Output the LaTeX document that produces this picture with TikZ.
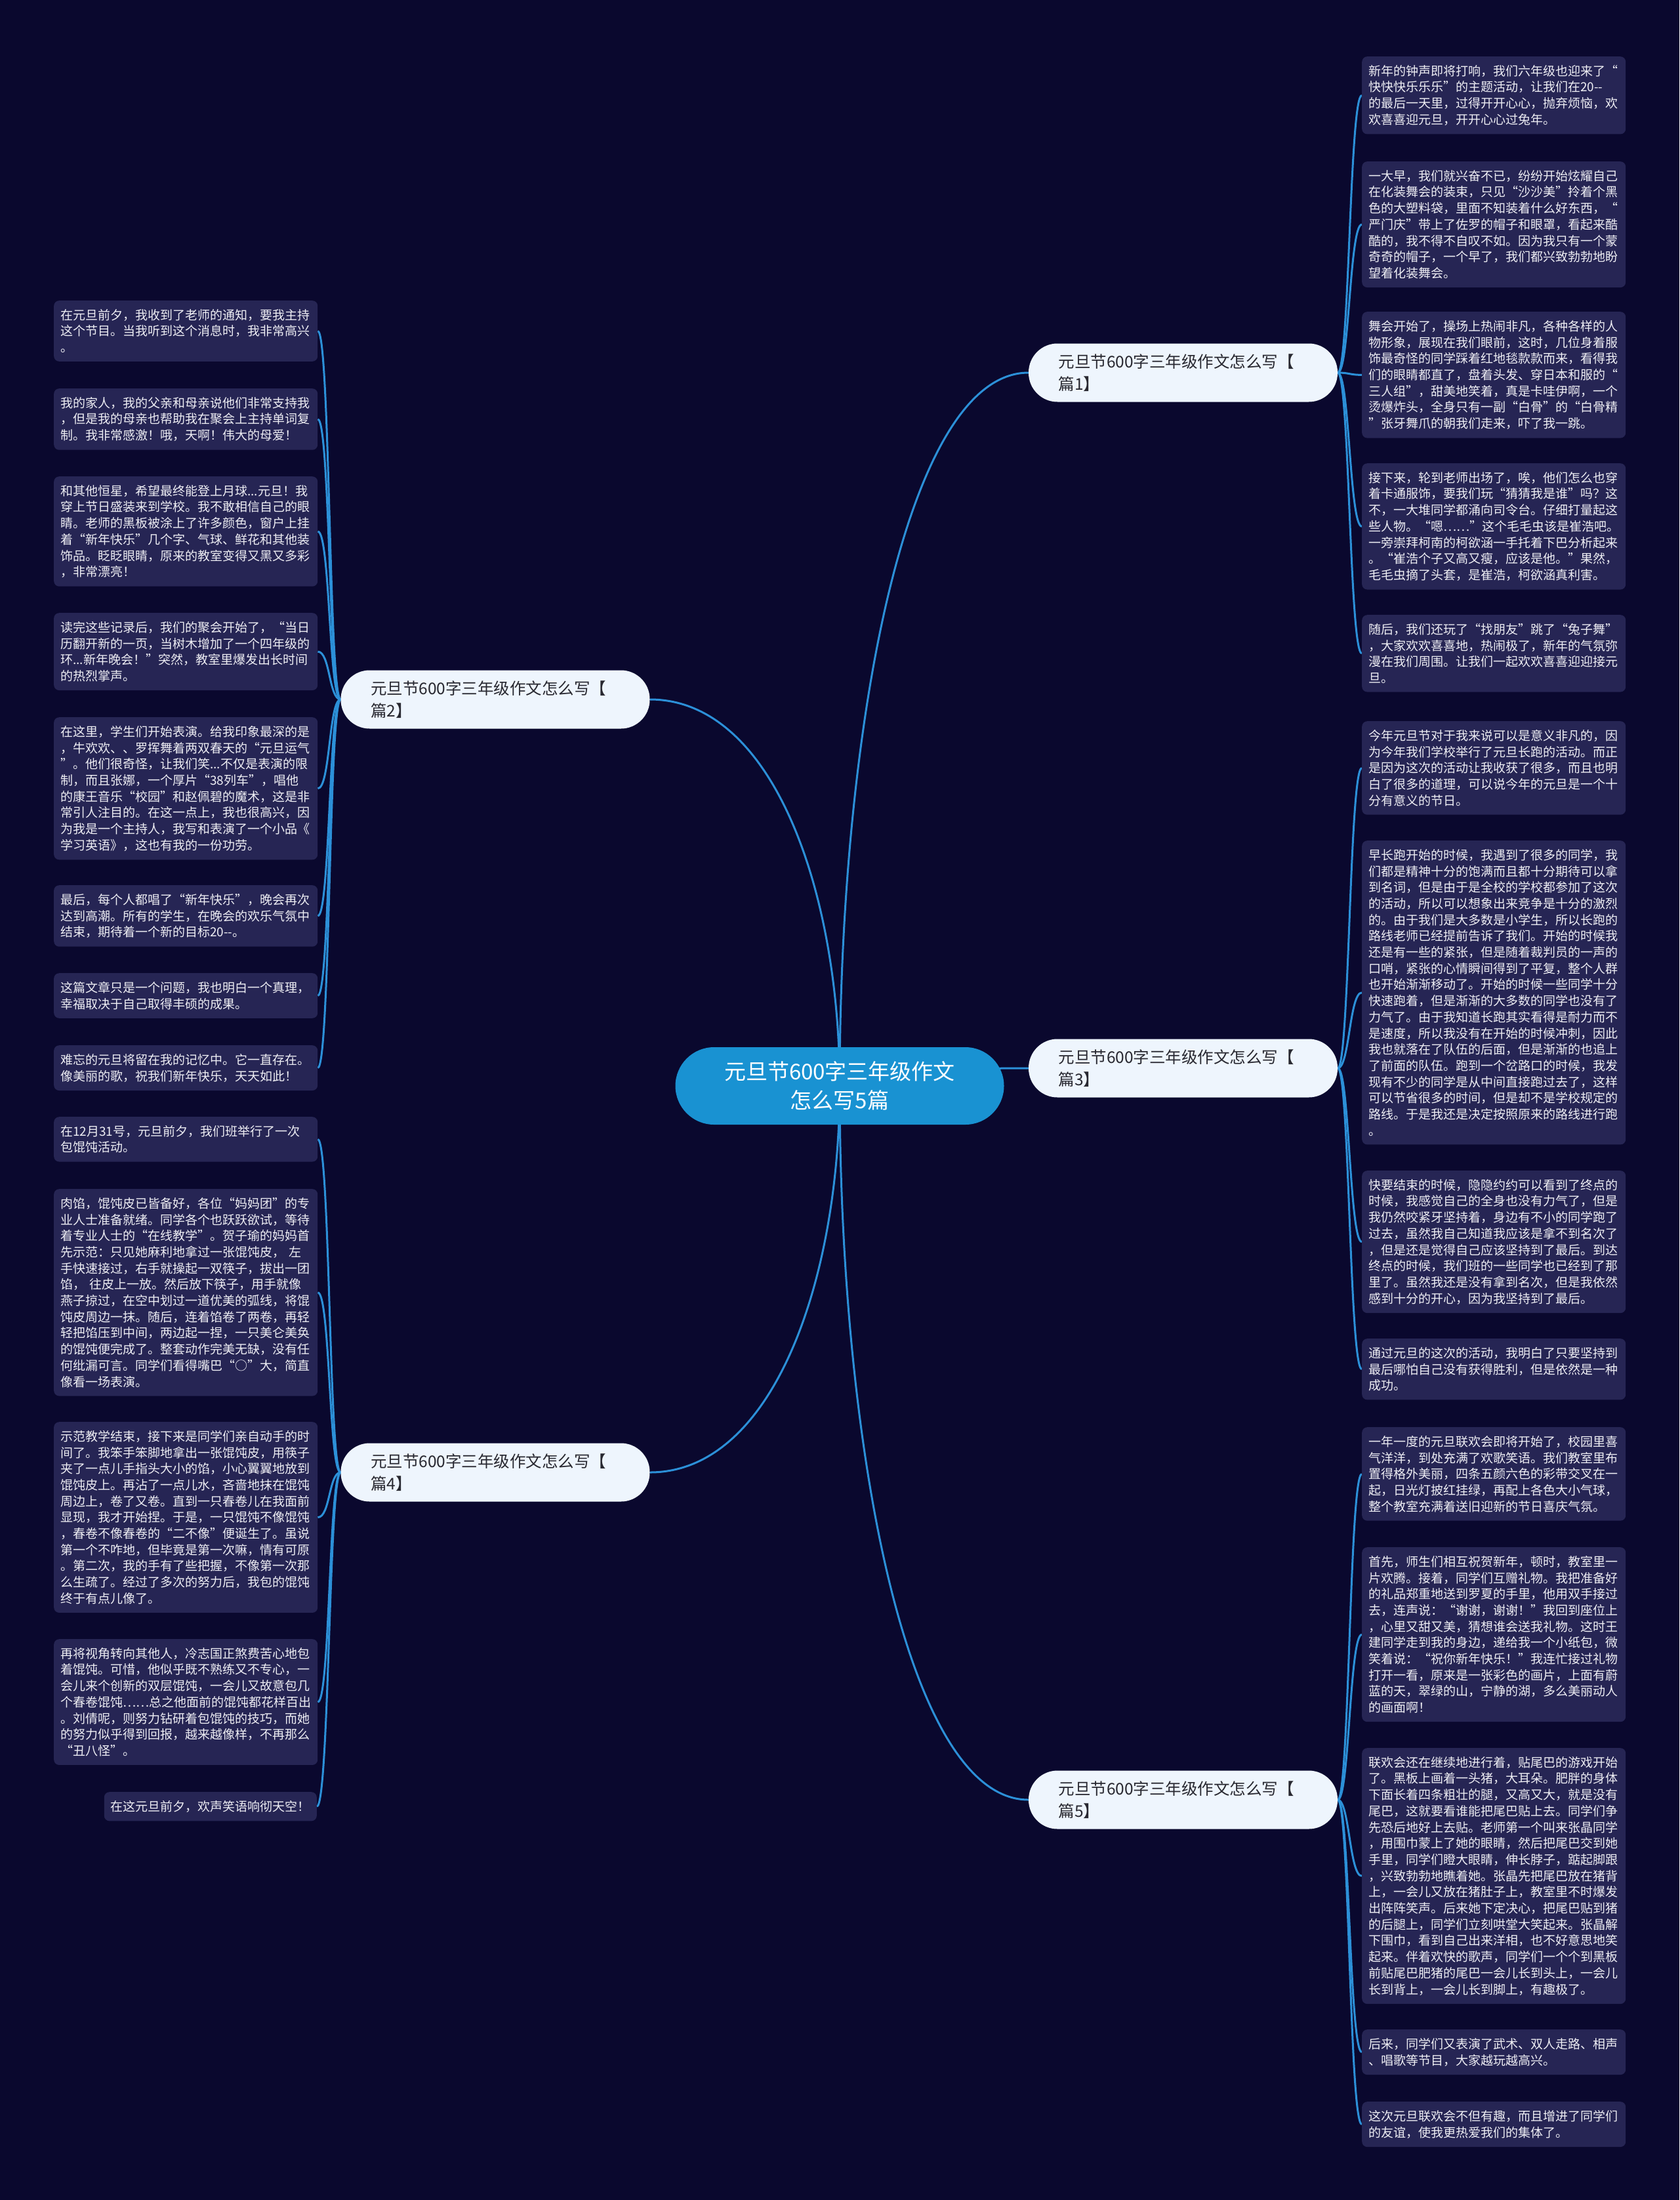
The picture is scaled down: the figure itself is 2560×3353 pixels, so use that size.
\documentclass[tikz,border=0pt]{standalone}
\usepackage{fontspec}
\setmainfont{Noto Sans CJK SC}
\usetikzlibrary{calc}
\definecolor{bgc}{RGB}{10,8,46}
\definecolor{leafc}{RGB}{38,37,84}
\definecolor{leaftext}{RGB}{238,238,244}
\definecolor{pillc}{RGB}{238,245,253}
\definecolor{pilltext}{RGB}{40,40,48}
\definecolor{rootc}{RGB}{25,146,210}
\definecolor{linec}{RGB}{44,144,216}
\pgfdeclarelayer{back}
\pgfdeclarelayer{edges}
\pgfsetlayers{back,edges,main}
\tikzset{
  leafbase/.style={fill=leafc, text=leaftext, rounded corners=8pt, inner xsep=10pt, inner ysep=13pt,
    align=left, font=\fontsize{19}{24.7}\selectfont},
  leaf/.style={leafbase, text width=382pt},
  rleaf/.style={leaf, anchor=north west},
  lleaf/.style={leaf, anchor=north west},
  pill/.style={fill=pillc, text=pilltext, rounded corners=44pt, minimum width=471pt, minimum height=89pt,
    text width=380pt, align=left, inner sep=0pt, font=\fontsize{24.5}{34}\selectfont},
  rootbox/.style={fill=rootc, text=white, rounded corners=59pt, minimum width=501pt, minimum height=118pt,
    align=center, inner sep=0pt, font=\fontsize{33}{44}\selectfont},
  link/.style={draw=linec, line width=3pt}
}
\begin{document}
\begin{tikzpicture}[x=1pt,y=-1pt]
\useasboundingbox (0,0) rectangle (2560,3353);
\begin{pgfonlayer}{back}
\fill[bgc] (0,0) rectangle (2560,3353);
\end{pgfonlayer}

% root and branches
\node[rootbox] (root) at (1280,1655) {元旦节600字三年级作文\\怎么写5篇};
\node[pill] (p1) at (1803.5,568) {元旦节600字三年级作文怎么写【\\篇1】};
\node[pill] (p2) at (755,1066) {元旦节600字三年级作文怎么写【\\篇2】};
\node[pill] (p3) at (1803.5,1628) {元旦节600字三年级作文怎么写【\\篇3】};
\node[pill] (p4) at (755,2244) {元旦节600字三年级作文怎么写【\\篇4】};
\node[pill] (p5) at (1803.5,2743) {元旦节600字三年级作文怎么写【\\篇5】};

% right leaves, 篇1
\node[rleaf] (r1) at (2076,86) {新年的钟声即将打响，我们六年级也迎来了“\\快快快乐乐乐”的主题活动，让我们在20-{}-\\的最后一天里，过得开开心心，抛弃烦恼，欢\\欢喜喜迎元旦，开开心心过兔年。};
\node[rleaf] (r2) at (2076,246) {一大早，我们就兴奋不已，纷纷开始炫耀自己\\在化装舞会的装束，只见“沙沙美”拎着个黑\\色的大塑料袋，里面不知装着什么好东西，“\\严门庆”带上了佐罗的帽子和眼罩，看起来酷\\酷的，我不得不自叹不如。因为我只有一个蒙\\奇奇的帽子，一个早了，我们都兴致勃勃地盼\\望着化装舞会。};
\node[rleaf] (r3) at (2076,475) {舞会开始了，操场上热闹非凡，各种各样的人\\物形象，展现在我们眼前，这时，几位身着服\\饰最奇怪的同学踩着红地毯款款而来，看得我\\们的眼睛都直了，盘着头发、穿日本和服的“\\三人组”，甜美地笑着，真是卡哇伊啊，一个\\烫爆炸头，全身只有一副“白骨”的“白骨精\\”张牙舞爪的朝我们走来，吓了我一跳。};
\node[rleaf] (r4) at (2076,706) {接下来，轮到老师出场了，唉，他们怎么也穿\\着卡通服饰，要我们玩“猜猜我是谁”吗？这\\不，一大堆同学都涌向司令台。仔细打量起这\\些人物。“嗯……”这个毛毛虫该是崔浩吧。\\一旁崇拜柯南的柯欲涵一手托着下巴分析起来\\。“崔浩个子又高又瘦，应该是他。”果然，\\毛毛虫摘了头套，是崔浩，柯欲涵真利害。};
\node[rleaf] (r5) at (2076,937) {随后，我们还玩了“找朋友”跳了“兔子舞”\\，大家欢欢喜喜地，热闹极了，新年的气氛弥\\漫在我们周围。让我们一起欢欢喜喜迎迎接元\\旦。};

% right leaves, 篇3
\node[rleaf] (r6) at (2076,1099) {今年元旦节对于我来说可以是意义非凡的，因\\为今年我们学校举行了元旦长跑的活动。而正\\是因为这次的活动让我收获了很多，而且也明\\白了很多的道理，可以说今年的元旦是一个十\\分有意义的节日。};
\node[rleaf] (r7) at (2076,1281) {早长跑开始的时候，我遇到了很多的同学，我\\们都是精神十分的饱满而且都十分期待可以拿\\到名词，但是由于是全校的学校都参加了这次\\的活动，所以可以想象出来竞争是十分的激烈\\的。由于我们是大多数是小学生，所以长跑的\\路线老师已经提前告诉了我们。开始的时候我\\还是有一些的紧张，但是随着裁判员的一声的\\口哨，紧张的心情瞬间得到了平复，整个人群\\也开始渐渐移动了。开始的时候一些同学十分\\快速跑着，但是渐渐的大多数的同学也没有了\\力气了。由于我知道长跑其实看得是耐力而不\\是速度，所以我没有在开始的时候冲刺，因此\\我也就落在了队伍的后面，但是渐渐的也追上\\了前面的队伍。跑到一个岔路口的时候，我发\\现有不少的同学是从中间直接跑过去了，这样\\可以节省很多的时间，但是却不是学校规定的\\路线。于是我还是决定按照原来的路线进行跑\\。};
\node[rleaf] (r8) at (2076,1784) {快要结束的时候，隐隐约约可以看到了终点的\\时候，我感觉自己的全身也没有力气了，但是\\我仍然咬紧牙坚持着，身边有不小的同学跑了\\过去，虽然我自己知道我应该是拿不到名次了\\，但是还是觉得自己应该坚持到了最后。到达\\终点的时候，我们班的一些同学也已经到了那\\里了。虽然我还是没有拿到名次，但是我依然\\感到十分的开心，因为我坚持到了最后。};
\node[rleaf] (r9) at (2076,2040) {通过元旦的这次的活动，我明白了只要坚持到\\最后哪怕自己没有获得胜利，但是依然是一种\\成功。};

% right leaves, 篇5
\node[rleaf] (r10) at (2076,2175) {一年一度的元旦联欢会即将开始了，校园里喜\\气洋洋，到处充满了欢歌笑语。我们教室里布\\置得格外美丽，四条五颜六色的彩带交叉在一\\起，日光灯披红挂绿，再配上各色大小气球，\\整个教室充满着送旧迎新的节日喜庆气氛。};
\node[rleaf] (r11) at (2076,2358) {首先，师生们相互祝贺新年，顿时，教室里一\\片欢腾。接着，同学们互赠礼物。我把准备好\\的礼品郑重地送到罗夏的手里，他用双手接过\\去，连声说：“谢谢，谢谢！”我回到座位上\\，心里又甜又美，猜想谁会送我礼物。这时王\\建同学走到我的身边，递给我一个小纸包，微\\笑着说：“祝你新年快乐！”我连忙接过礼物\\打开一看，原来是一张彩色的画片，上面有蔚\\蓝的天，翠绿的山，宁静的湖，多么美丽动人\\的画面啊！};
\node[rleaf] (r12) at (2076,2664) {联欢会还在继续地进行着，贴尾巴的游戏开始\\了。黑板上画着一头猪，大耳朵。肥胖的身体\\下面长着四条粗壮的腿，又高又大，就是没有\\尾巴，这就要看谁能把尾巴贴上去。同学们争\\先恐后地好上去贴。老师第一个叫来张晶同学\\，用围巾蒙上了她的眼睛，然后把尾巴交到她\\手里，同学们瞪大眼睛，伸长脖子，踮起脚跟\\，兴致勃勃地瞧着她。张晶先把尾巴放在猪背\\上，一会儿又放在猪肚子上，教室里不时爆发\\出阵阵笑声。后来她下定决心，把尾巴贴到猪\\的后腿上，同学们立刻哄堂大笑起来。张晶解\\下围巾，看到自己出来洋相，也不好意思地笑\\起来。伴着欢快的歌声，同学们一个个到黑板\\前贴尾巴肥猪的尾巴一会儿长到头上，一会儿\\长到背上，一会儿长到脚上，有趣极了。};
\node[rleaf] (r13) at (2076,3093) {后来，同学们又表演了武术、双人走路、相声\\、唱歌等节目，大家越玩越高兴。};
\node[rleaf] (r14) at (2076,3203) {这次元旦联欢会不但有趣，而且增进了同学们\\的友谊，使我更热爱我们的集体了。};

% left leaves, 篇2
\node[lleaf] (l1) at (82,458) {在元旦前夕，我收到了老师的通知，要我主持\\这个节目。当我听到这个消息时，我非常高兴\\。};
\node[lleaf] (l2) at (82,592) {我的家人，我的父亲和母亲说他们非常支持我\\，但是我的母亲也帮助我在聚会上主持单词复\\制。我非常感激！哦，天啊！伟大的母爱！};
\node[lleaf] (l3) at (82,726) {和其他恒星，希望最终能登上月球...元旦！我\\穿上节日盛装来到学校。我不敢相信自己的眼\\睛。老师的黑板被涂上了许多颜色，窗户上挂\\着“新年快乐”几个字、气球、鲜花和其他装\\饰品。眨眨眼睛，原来的教室变得又黑又多彩\\，非常漂亮！};
\node[lleaf] (l4) at (82,934) {读完这些记录后，我们的聚会开始了，“当日\\历翻开新的一页，当树木增加了一个四年级的\\环...新年晚会！”突然，教室里爆发出长时间\\的热烈掌声。};
\node[lleaf] (l5) at (82,1093) {在这里，学生们开始表演。给我印象最深的是\\，牛欢欢、、罗挥舞着两双春天的“元旦运气\\”。他们很奇怪，让我们笑...不仅是表演的限\\制，而且张娜，一个厚片“38列车”，唱他\\的康王音乐“校园”和赵佩碧的魔术，这是非\\常引人注目的。在这一点上，我也很高兴，因\\为我是一个主持人，我写和表演了一个小品《\\学习英语》，这也有我的一份功劳。};
\node[lleaf] (l6) at (82,1349) {最后，每个人都唱了“新年快乐”，晚会再次\\达到高潮。所有的学生，在晚会的欢乐气氛中\\结束，期待着一个新的目标20-{}-。};
\node[lleaf] (l7) at (82,1483) {这篇文章只是一个问题，我也明白一个真理，\\幸福取决于自己取得丰硕的成果。};
\node[lleaf] (l8) at (82,1593) {难忘的元旦将留在我的记忆中。它一直存在。\\像美丽的歌，祝我们新年快乐，天天如此！};

% left leaves, 篇4
\node[lleaf] (l9) at (82,1702) {在12月31号，元旦前夕，我们班举行了一次\\包馄饨活动。};
\node[lleaf] (l10) at (82,1812) {肉馅，馄饨皮已皆备好，各位“妈妈团”的专\\业人士准备就绪。同学各个也跃跃欲试，等待\\着专业人士的“在线教学”。贺子瑜的妈妈首\\先示范：只见她麻利地拿过一张馄饨皮，\ 左\\手快速接过，右手就操起一双筷子，拔出一团\\馅，\ 往皮上一放。然后放下筷子，用手就像\\燕子掠过，在空中划过一道优美的弧线，将馄\\饨皮周边一抹。随后，连着馅卷了两卷，再轻\\轻把馅压到中间，两边起一捏，一只美仑美奂\\的馄饨便完成了。整套动作完美无缺，没有任\\何纰漏可言。同学们看得嘴巴“○”大，简直\\像看一场表演。};
\node[lleaf] (l11) at (82,2167) {示范教学结束，接下来是同学们亲自动手的时\\间了。我笨手笨脚地拿出一张馄饨皮，用筷子\\夹了一点儿手指头大小的馅，小心翼翼地放到\\馄饨皮上。再沾了一点儿水，吝啬地抹在馄饨\\周边上，卷了又卷。直到一只春卷儿在我面前\\显现，我才开始捏。于是，一只馄饨不像馄饨\\，春卷不像春卷的“二不像”便诞生了。虽说\\第一个不咋地，但毕竟是第一次嘛，情有可原\\。第二次，我的手有了些把握，不像第一次那\\么生疏了。经过了多次的努力后，我包的馄饨\\终于有点儿像了。};
\node[lleaf] (l12) at (82,2498) {再将视角转向其他人，冷志国正煞费苦心地包\\着馄饨。可惜，他似乎既不熟练又不专心，一\\会儿来个创新的双层馄饨，一会儿又故意包几\\个春卷馄饨……总之他面前的馄饨都花样百出\\。刘倩呢，则努力钻研着包馄饨的技巧，而她\\的努力似乎得到回报，越来越像样，不再那么\\“丑八怪”。};
\node[leafbase, anchor=north east] (l13) at (483,2731) {在这元旦前夕，欢声笑语响彻天空！};

\begin{pgfonlayer}{edges}
% root to branches
\draw[link] (root.center) .. controls +(0,-543) and +(-187,0) .. (p1.west);
\draw[link] (root.center) .. controls +(0,-295) and +(188,0) .. (p2.east);
\draw[link] (root.center) .. controls +(0,-14) and +(-187,0) .. (p3.west);
\draw[link] (root.center) .. controls +(0,295) and +(188,0) .. (p4.east);
\draw[link] (root.center) .. controls +(0,544) and +(-187,0) .. (p5.west);
% branch to leaves, right
\foreach \p/\r in {p1/r1,p1/r2,p1/r3,p1/r4,p1/r5,
                   p3/r6,p3/r7,p3/r8,p3/r9,
                   p5/r10,p5/r11,p5/r12,p5/r13,p5/r14}
  \draw[link] (\p.east) .. controls +(18,0) and +(-19,0) .. (\r.west);
% branch to leaves, left
\foreach \p/\l in {p2/l1,p2/l2,p2/l3,p2/l4,p2/l5,p2/l6,p2/l7,p2/l8,
                   p4/l9,p4/l10,p4/l11,p4/l12,p4/l13}
  \draw[link] (\p.west) .. controls +(-18,0) and +(19,0) .. (\l.east);
\end{pgfonlayer}
\end{tikzpicture}
\end{document}
